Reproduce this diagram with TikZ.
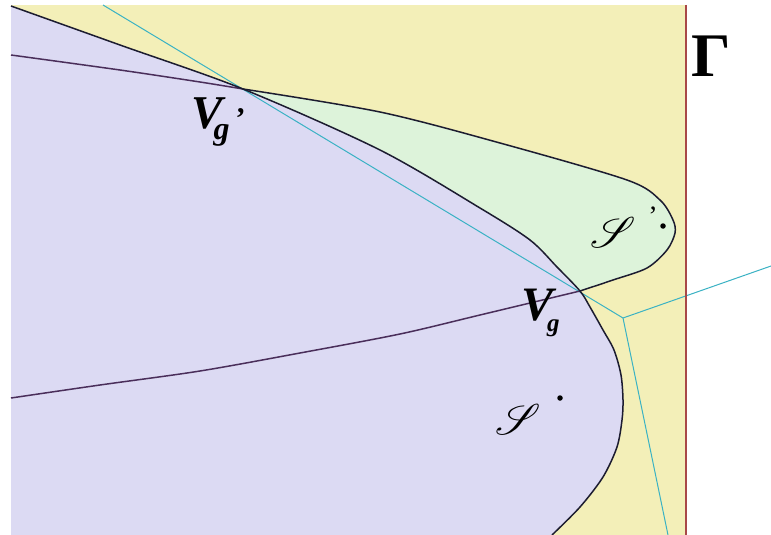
\documentclass[tikz,border=0pt]{standalone}
\usepackage{fontspec}
\setmainfont{Liberation Serif}
\usepackage{mathrsfs}
\usepackage{graphicx}
\definecolor{bgyellow}{HTML}{F3EFB8}
\definecolor{lav}{HTML}{DCDAF3}
\definecolor{mint}{HTML}{DDF3DA}
\definecolor{curvecol}{HTML}{1C1C30}
\definecolor{bisec}{HTML}{4A2E5A}
\definecolor{vor}{HTML}{3AB2C4}
\definecolor{gam}{HTML}{A84848}
\begin{document}
\begin{tikzpicture}[x=1pt,y=-1pt,
  boundary/.style={draw=curvecol,line width=1.5pt},
  bisector/.style={draw=bisec,line width=1.5pt},
  voronoi/.style={draw=vor,line width=1pt},
  gammaline/.style={draw=gam,line width=1.1pt},
  site/.style={circle,fill=black,inner sep=0pt,minimum size=5.5pt},
  lbl/.style={inner sep=0pt}]
\useasboundingbox (0,0) rectangle (771,535);
\fill[white] (0,0) rectangle (771,535);
\fill[bgyellow] (11,5) rectangle (686,535);
% key points
\coordinate (Vgp) at (243,89);
\coordinate (Vg) at (580,291);
\coordinate (W) at (623,318);
\coordinate (Ctop) at (103,5);
\coordinate (Cright) at (771,266);
\coordinate (Cbot) at (668,535);
\coordinate (Gtop) at (686,5);
\coordinate (Gbot) at (686,535);
% green region
\fill[mint] plot[smooth] coordinates {(Vgp) (380,112) (500,143) (627,180) (660,200) (673,220) (675,233) (667,250) (647,268) (613,280) (Vg)}
  -- plot[smooth] coordinates {(Vg) (557,267) (530,240) (480,208) (380,150) (Vgp)} -- cycle;
% purple region
\fill[lav] (11,535) -- (11,6) -- plot[smooth] coordinates {(11,6) (120,45) (Vgp) (380,150) (480,208) (530,240) (557,267) (Vg) (590,307) (603,330) (614,350) (621,375) (623,400) (622,420) (617,447) (603,477) (580,507) (552,535)} -- cycle;
% Voronoi lines
\draw[voronoi] (Ctop) -- (W) -- (Cbot);
\draw[voronoi] (W) -- (Cright);
% bisector curves
\draw[bisector] plot[smooth] coordinates {(11,55) (120,70) (200,82) (Vgp)};
\draw[bisector] plot[smooth] coordinates {(11,398) (100,385) (200,371) (300,353) (400,334) (480,315) (Vg)};
% region boundaries
\draw[boundary] plot[smooth] coordinates {(11,6) (120,45) (Vgp) (380,150) (480,208) (530,240) (557,267) (Vg) (590,307) (603,330) (614,350) (621,375) (623,400) (622,420) (617,447) (603,477) (580,507) (552,535)};
\draw[boundary] plot[smooth] coordinates {(Vgp) (380,112) (500,143) (627,180) (660,200) (673,220) (675,233) (667,250) (647,268) (613,280) (Vg)};
% Gamma line
\draw[gammaline] (Gtop) -- (Gbot);
% sites
\node[site] (S) at (560,398) {};
\node[site] (Sp) at (663,226) {};
% labels
\node[lbl] (GammaLbl) at (711,56) {\fontsize{62}{62}\selectfont\bfseries Γ};
\node[lbl,anchor=base west] (VgLbl) at (521,320) {\fontsize{48}{48}\selectfont\bfseries\itshape V\kern-6pt\raisebox{-11pt}{\fontsize{25}{25}\selectfont g}};
\node[lbl,anchor=base west] (VgpLbl) at (191,128) {\fontsize{47}{47}\selectfont\bfseries\itshape V\kern-9pt\raisebox{-12pt}{\fontsize{32}{32}\selectfont g}\kern6pt{\fontsize{30}{30}\selectfont\upshape '}};
\node[lbl] (SLbl) at (518,419) {\scalebox{4.3}{$\mathscr{S}$}};
\node[lbl] (SpLbl) at (613,232) {\scalebox{4.3}{$\mathscr{S}$}};
\node[lbl] (SpPrime) at (653,216) {\fontsize{28}{28}\selectfont ’};
\end{tikzpicture}
\end{document}
